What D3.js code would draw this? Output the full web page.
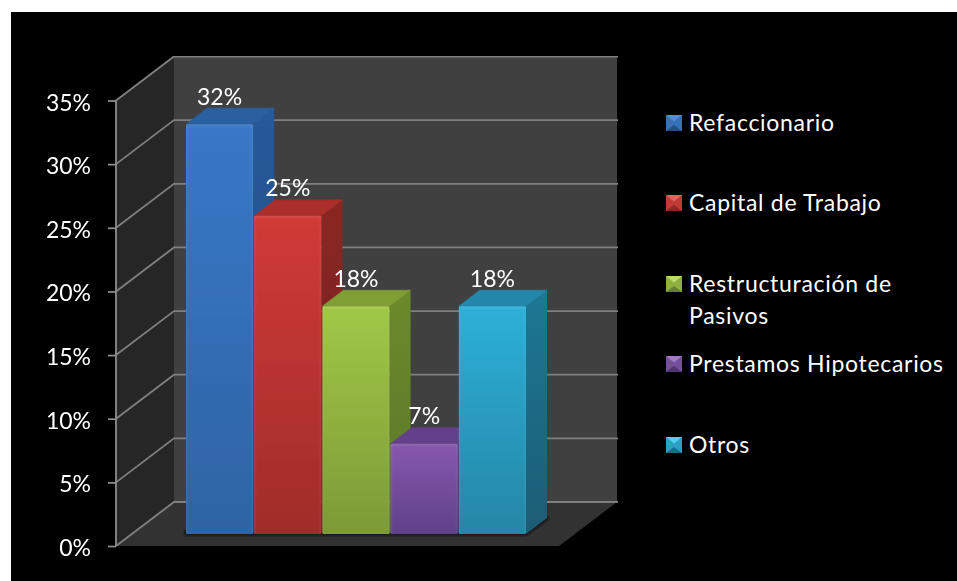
<!DOCTYPE html>
<html>
<head>
<meta charset="utf-8">
<script src="https://cdnjs.cloudflare.com/ajax/libs/d3/7.8.5/d3.min.js"></script>
<style>
html,body{margin:0;padding:0;background:#fff;overflow:hidden}
svg{display:block}
text{font-family:Lato,"Open Sans",sans-serif;fill:#fff}
</style>
</head>
<body>
<script>
const categories = ["Refaccionario","Capital de Trabajo","Restructuración de Pasivos","Prestamos Hipotecarios","Otros"];
const values = [0.322,0.25,0.179,0.071,0.179];
const axisTicks = [0,0.05,0.10,0.15,0.20,0.25,0.30,0.35];

const palette = [
  {hi:"#3878c8",lo:"#2e64a4",top:"#2c609f",sideHi:"#265a9a",sideLo:"#204a7e",mHi:"#4a90dc",mLo:"#254f86",mMid:"#3472b8"},
  {hi:"#d03a36",lo:"#a02c2a",top:"#ab2d29",sideHi:"#8a2622",sideLo:"#742020",mHi:"#e8605a",mLo:"#8c2825",mMid:"#c03a36"},
  {hi:"#a0c846",lo:"#7c9a37",top:"#7f9f35",sideHi:"#6a8a2b",sideLo:"#5c7628",mHi:"#bcdc68",mLo:"#66802e",mMid:"#8fb040"},
  {hi:"#8658ae",lo:"#604088",top:"#634089",sideHi:"#553677",sideLo:"#4a2f68",mHi:"#a07cc8",mLo:"#4f3470",mMid:"#74509c"},
  {hi:"#2db0d8",lo:"#2586a6",top:"#2487ab",sideHi:"#1f7895",sideLo:"#1a5c74",mHi:"#50d0f0",mLo:"#1e6d88",mMid:"#2ba0c4"}
];

const W = 957, H = 581;
const svg = d3.select("body").append("svg").attr("width",W).attr("height",H);
const defs = svg.append("defs");

svg.append("rect").attr("x",11).attr("y",12).attr("width",W-11).attr("height",H-12).attr("fill","#000");

defs.append("filter").attr("id","soften").attr("x",0).attr("y",0).attr("width","100%").attr("height","100%")
  .append("feGaussianBlur").attr("stdDeviation",0.4);

// scales
const depth = {dx:58, dy:-44};
const barDepth = {dx:21, dy:-16};
const y = d3.scaleLinear().domain([0,0.35]).range([546,100.5]);
const floorX = d3.scaleLinear().domain([0,1]).range([116,559]);
const x = d3.scaleBand().domain(categories).range([186,526]).paddingInner(0.015).paddingOuter(0);
const barBase = 534;
const barY = v => barBase - (y(0)-y(v));

const g = svg.append("g").attr("filter","url(#soften)");
const poly = pts => pts.map(p=>p.join(",")).join(" ");

// walls and floor
const x0 = floorX(0), x1 = floorX(1), yTop = y(0.35), yBot = y(0);
g.append("polygon").attr("points",poly([[x0+depth.dx,yTop+depth.dy],[x1+depth.dx,yTop+depth.dy],[x1+depth.dx,yBot+depth.dy],[x0+depth.dx,yBot+depth.dy]])).attr("fill","#404040");
g.append("polygon").attr("points",poly([[x0,yTop],[x0+depth.dx,yTop+depth.dy],[x0+depth.dx,yBot+depth.dy],[x0,yBot]])).attr("fill","#272727");
g.append("polygon").attr("points",poly([[x0,yBot],[x0+depth.dx,yBot+depth.dy],[x1+depth.dx,yBot+depth.dy],[x1,yBot]])).attr("fill","#333333");

// gridlines
const grid = g.append("g").attr("stroke","#7f7f7f").attr("stroke-width",1.8).attr("fill","none");
axisTicks.forEach(t=>{
  grid.append("polyline").attr("points",poly([[x0,y(t)],[x0+depth.dx,y(t)+depth.dy],[x1+depth.dx+1,y(t)+depth.dy]]));
});

// axis
const axis = d3.axisLeft(y).tickValues(axisTicks).tickFormat(d3.format(".0%")).tickSize(8).tickPadding(0);
const ax = g.append("g").attr("transform",`translate(${x0},0)`).call(axis);
ax.selectAll("path,line").attr("stroke","#8c8c8c").attr("stroke-width",1.8);
ax.select(".domain").attr("d",`M0,${yTop}V${yBot}`);
ax.selectAll("text").attr("x",-25).attr("dy",null).attr("y",9.5).attr("text-anchor","end")
  .style("font-size","23px").style("font-family","Lato").attr("fill","#fff");

// shadow on floor
defs.append("filter").attr("id","soft").attr("x","-10%").attr("y","-50%").attr("width","120%").attr("height","200%")
  .append("feGaussianBlur").attr("stdDeviation",1.1);
g.append("polygon").attr("points",poly([[184,535.5],[527,535.5],[550,518],[546,517],[526,530],[184,530]]))
  .attr("fill","#161616").attr("filter","url(#soft)");

// gradients
palette.forEach((c,i)=>{
  const f = defs.append("linearGradient").attr("id","front"+i).attr("x1",0).attr("x2",0).attr("y1",0).attr("y2",1);
  f.append("stop").attr("offset",0).attr("stop-color",c.hi);
  f.append("stop").attr("offset",1).attr("stop-color",c.lo);
  const s = defs.append("linearGradient").attr("id","side"+i).attr("x1",0).attr("x2",0).attr("y1",0).attr("y2",1);
  s.append("stop").attr("offset",0).attr("stop-color",c.sideHi);
  s.append("stop").attr("offset",1).attr("stop-color",c.sideLo);
});
const edge = defs.append("linearGradient").attr("id","edge").attr("x1",0).attr("x2",1).attr("y1",0).attr("y2",0);
[[0,.06],[.04,0],[.96,0],[1,.06]].forEach(([o,a])=>edge.append("stop").attr("offset",o).attr("stop-color","#fff").attr("stop-opacity",a));
const capG = defs.append("linearGradient").attr("id","cap").attr("x1",0).attr("x2",0).attr("y1",0).attr("y2",1);
[[0,.1],[1,0]].forEach(([o,a])=>capG.append("stop").attr("offset",o).attr("stop-color","#fff").attr("stop-opacity",a));

// bars
const bars = g.selectAll("g.bar").data(categories.map((c,i)=>({c,v:values[i],i}))).join("g").attr("class","bar");
bars.each(function(d){
  const b = d3.select(this);
  const l = x(d.c), w = x.bandwidth(), r = l+w, t = barY(d.v);
  const dx = barDepth.dx, dy = barDepth.dy;
  b.append("polygon").attr("points",poly([[r,t],[r+dx,t+dy],[r+dx,barBase+dy],[r,barBase]])).attr("fill",`url(#side${d.i})`);
  b.append("polygon").attr("points",poly([[l,t],[l+dx,t+dy],[r+dx,t+dy],[r,t]])).attr("fill",palette[d.i].top).attr("stroke",palette[d.i].top).attr("stroke-width",.6).attr("stroke-linejoin","round");
  b.append("rect").attr("x",l).attr("y",t).attr("width",w).attr("height",barBase-t).attr("rx",1.5).attr("fill",`url(#front${d.i})`);
  b.append("rect").attr("x",l).attr("y",t).attr("width",w).attr("height",barBase-t).attr("rx",1.5).attr("fill","url(#edge)");
  b.append("rect").attr("x",l).attr("y",t).attr("width",w).attr("height",4).attr("rx",1.5).attr("fill","url(#cap)");
});

// data labels
g.selectAll("text.val").data(categories.map((c,i)=>({c,v:values[i]}))).join("text").attr("class","val")
  .attr("x",d=>x(d.c)+x.bandwidth()/2)
  .attr("y",d=>barY(d.v)-19.5)
  .attr("text-anchor","middle").style("font-size","23px")
  .text(d=>d3.format(".0%")(d.v));

// legend
const legendY = [131,211,292,372,453];
const legendStyle = {size:"23px", spacing:"0.7px"};
const lg = svg.append("g").selectAll("g").data(categories).join("g");
lg.each(function(c,i){
  const s = d3.select(this), by = legendY[i], m = 16, mx = 666, my = by-m, p = palette[i];
  const q=[[mx,my],[mx+m,my],[mx+m,my+m],[mx,my+m]], up=[mx+m/2,my+m/2-1.5], dn=[mx+m/2,my+m/2+2];
  s.append("polygon").attr("points",poly(q)).attr("fill",p.mMid);
  s.append("polygon").attr("points",poly([q[0],q[1],up])).attr("fill",p.mHi);
  s.append("polygon").attr("points",poly([q[3],q[2],dn])).attr("fill",p.mLo);
  const addText = (txt,yy)=>s.append("text").attr("x",689).attr("y",yy)
    .style("font-size",legendStyle.size).style("letter-spacing",legendStyle.spacing).text(txt);
  const t = addText(c,by);
  if (t.node().getComputedTextLength() > 262) {
    const words = c.split(" "), tail = words.pop();
    t.text(words.join(" "));
    addText(tail,by+32);
  }
});
</script>
</body>
</html>
